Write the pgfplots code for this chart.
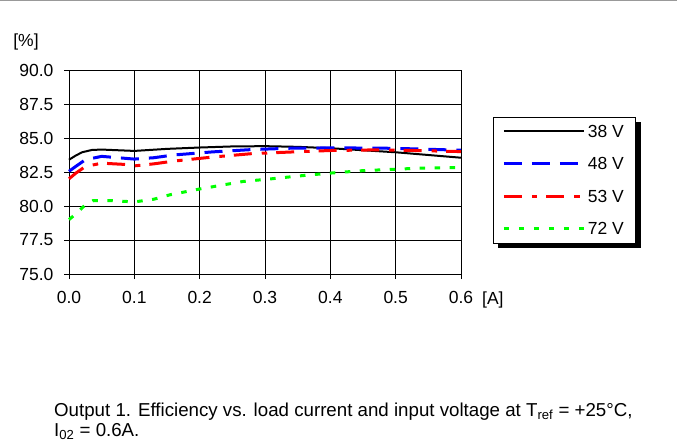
\documentclass[border=0pt]{standalone}
\usepackage{pgfplots}
\pgfplotsset{compat=1.18}
\usepackage{fontspec}
\setmainfont{Liberation Sans}
\usetikzlibrary{backgrounds}
\definecolor{cblue}{RGB}{0,0,255}
\definecolor{cred}{RGB}{255,0,0}
\definecolor{cgreen}{RGB}{0,255,0}
\begin{document}
\begin{tikzpicture}[x=1pt,y=1pt]
\useasboundingbox (0,0) rectangle (677,445);
\draw[gray!80,line width=1.2pt] (0,444.5) -- (677,444.5);
\begin{axis}[
  at={(69pt,171pt)}, anchor=south west,
  scale only axis, width=392pt, height=204pt,
  xmin=0, xmax=0.6, ymin=75, ymax=90,
  xtick={0,0.1,...,0.6}, ytick={75,77.5,...,90},
  xticklabels={0.0,0.1,0.2,0.3,0.4,0.5,0.6},
  yticklabels={75.0,77.5,80.0,82.5,85.0,87.5,90.0},
  tick pos=left, tick align=outside, major tick length=5pt,
  grid=major, major grid style={black, line width=0.8pt},
  axis line style={black, line width=0.9pt},
  tick style={black, line width=0.8pt},
  /pgf/number format/assume math mode=true,
  tick label style={font=\fontsize{17.5}{17.5}\selectfont},
  xticklabel style={yshift=-9pt},
  yticklabel style={xshift=-7pt},
  legend style={at={(rel axis cs:1.0814,0.772)}, anchor=north west,
    name=leg,
    draw=black, line width=0.8pt, fill=white,
    font=\fontsize{17.5}{17.5}\selectfont,
    inner xsep=9pt, inner ysep=6pt, row sep=16pt,
    nodes={inner xsep=2.5pt, inner ysep=2pt, text height=12.5pt, text depth=0pt}},
  legend cell align=left,
  legend image code/.code={\draw[#1] (0pt,0pt) -- (80pt,0pt);},
  clip=false,
]
\addplot[black, line width=2pt] coordinates {
(0.0,83.4)(0.01,83.7)(0.02,83.95)(0.035,84.12)(0.05,84.15)(0.1,84.05)(0.15,84.2)(0.2,84.3)(0.25,84.38)(0.3,84.4)(0.35,84.35)(0.4,84.25)(0.45,84.1)(0.5,83.95)(0.55,83.75)(0.6,83.55)};
\addlegendentry{38 V}
\addplot[cblue, line width=3pt, dash pattern=on 18pt off 10pt] coordinates {
(0,82.55)(0.01,82.9)(0.025,83.4)(0.05,83.65)(0.075,83.55)(0.1,83.45)(0.13,83.55)(0.16,83.75)(0.22,83.98)(0.28,84.15)(0.34,84.25)(0.4,84.27)(0.475,84.26)(0.53,84.2)(0.6,84.1)};
\addlegendentry{48 V}
\addplot[cred, line width=3pt, dash pattern=on 18pt off 10pt on 5.5pt off 9pt] coordinates {
(0,82.0)(0.01,82.4)(0.025,82.9)(0.05,83.15)(0.088,83.05)(0.1,82.95)(0.13,83.1)(0.16,83.3)(0.22,83.6)(0.28,83.85)(0.34,83.97)(0.4,84.08)(0.475,84.13)(0.53,84.08)(0.6,84.0)};
\addlegendentry{53 V}
\addplot[cgreen, line width=3pt, dash pattern=on 5.5pt off 9.5pt] coordinates {
(0,79.0)(0.01,79.4)(0.022,79.95)(0.037,80.4)(0.063,80.4)(0.1,80.3)(0.13,80.5)(0.155,80.83)(0.2,81.25)(0.266,81.8)(0.31,82.0)(0.35,82.2)(0.4,82.42)(0.45,82.6)(0.536,82.78)(0.6,82.83)};
\addlegendentry{72 V}
\end{axis}
\begin{scope}[on background layer]
\fill[black] ([shift={(5pt,-5pt)}]leg.south west) rectangle ([shift={(5pt,-5pt)}]leg.north east);
\end{scope}
\node[anchor=center, font=\fontsize{17.5}{17.5}\selectfont] at (26,403) {[\%]};
\node[anchor=west, font=\fontsize{17.5}{17.5}\selectfont, inner sep=0pt] at (482,145) {[A]};
\node[anchor=base west, inner sep=0pt, font=\fontsize{18.7}{18.7}\selectfont] at (54,29) {Output 1. Efficiency vs. load current and input voltage at T\textsubscript{ref} = +25°C,};
\node[anchor=base west, inner sep=0pt, font=\fontsize{18.7}{18.7}\selectfont] at (54,9) {I\textsubscript{02} = 0.6A.};
\end{tikzpicture}
\end{document}
